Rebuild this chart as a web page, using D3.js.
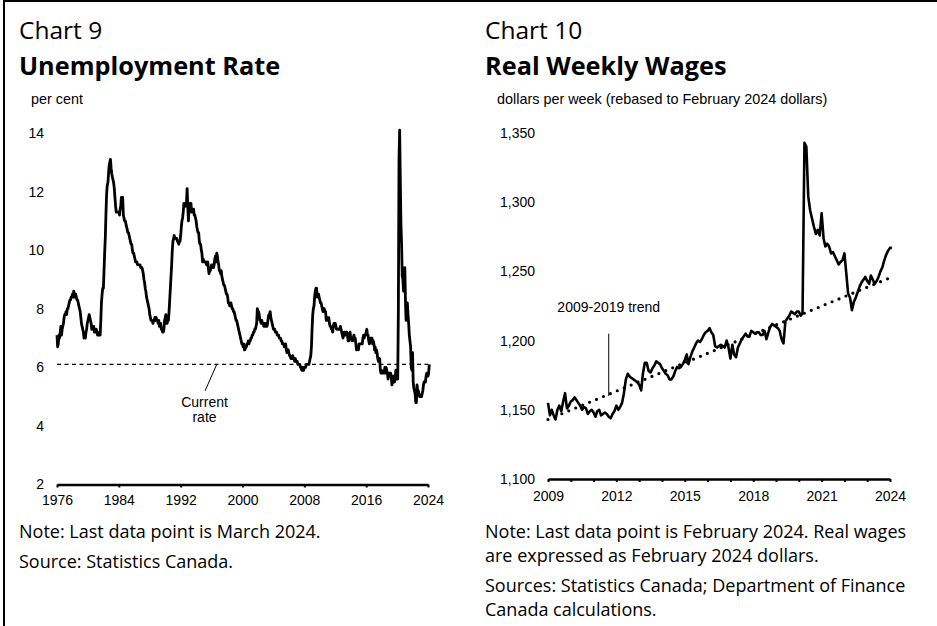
<!DOCTYPE html>
<html>
<head>
<meta charset="utf-8">
<script src="https://cdn.jsdelivr.net/npm/d3@7"></script>
<style>
body{margin:0;background:#fff;}
text{fill:#000;}
.sans{font-family:"Liberation Sans",Arial,sans-serif;font-size:14px;}
.head{font-family:"Open Sans","Noto Sans",sans-serif;}
</style>
</head>
<body>
<div id="chart"></div>
<script>

// Chart 9: unemployment rate, monthly, per cent, from Jan 1976
var unempFirstMonth="1976-01";
var unempRate=[
	7.1,6.7,6.8,7.1,7.0,7.2,7.4,7.1,7.3,7.4,7.5,7.7,
	7.8,7.8,7.9,7.8,8.0,8.0,8.1,8.2,8.3,8.3,8.4,8.4,
	8.5,8.4,8.6,8.5,8.4,8.5,8.4,8.3,8.3,8.2,8.1,8.0,
	7.9,7.7,7.5,7.4,7.3,7.2,7.0,7.1,7.0,7.2,7.3,7.5,
	7.6,7.7,7.8,7.7,7.6,7.5,7.3,7.4,7.3,7.4,7.2,7.3,
	7.2,7.3,7.2,7.1,7.1,7.1,7.2,7.1,7.6,8.2,8.5,8.7,
	8.7,9.3,9.9,10.4,11.2,11.9,12.2,12.3,12.6,12.9,13.0,13.1,
	12.8,12.6,12.5,12.4,12.3,12.1,11.8,11.5,11.3,11.3,11.3,11.3,
	11.3,11.2,11.4,11.5,11.8,11.6,11.8,11.2,11.1,11.0,11.0,10.9,
	10.8,10.7,10.6,10.6,10.5,10.4,10.3,10.2,10.2,10.0,9.9,9.9,
	9.8,9.7,9.6,9.6,9.6,9.5,9.5,9.5,9.5,9.5,9.4,9.4,
	9.4,9.3,9.2,9.0,8.9,8.7,8.6,8.4,8.3,8.2,8.1,8.0,
	7.8,7.7,7.6,7.6,7.6,7.5,7.6,7.6,7.7,7.6,7.7,7.6,
	7.6,7.5,7.6,7.4,7.4,7.5,7.3,7.3,7.2,7.2,7.3,7.6,
	7.7,7.8,7.5,7.5,7.6,7.6,7.9,8.3,8.7,9.1,9.5,10.0,
	10.3,10.4,10.5,10.4,10.4,10.4,10.4,10.3,10.3,10.2,10.3,10.3,
	10.5,10.8,11.0,11.1,11.3,11.6,11.5,11.6,11.5,11.6,12.1,11.5,
	11.0,11.4,11.6,11.5,11.6,11.3,11.4,11.4,11.4,11.2,11.2,11.1,
	11.0,10.8,10.7,10.6,10.6,10.3,10.2,10.2,10.0,9.9,9.6,9.7,
	9.6,9.6,9.6,9.6,9.5,9.5,9.6,9.4,9.2,9.3,9.3,9.4,
	9.5,9.4,9.5,9.4,9.5,9.7,9.8,9.6,9.9,9.8,9.6,9.5,
	9.3,9.3,9.2,9.3,9.1,9.0,8.9,8.8,8.8,8.7,8.6,8.5,
	8.5,8.4,8.2,8.2,8.1,8.2,8.2,8.1,8.0,8.0,7.9,7.9,
	7.8,7.7,7.6,7.6,7.5,7.4,7.3,7.2,7.1,7.0,6.9,6.8,
	6.8,6.7,6.8,6.6,6.6,6.7,6.7,6.8,6.8,6.9,6.8,6.9,
	6.9,7.0,7.0,7.1,7.1,7.2,7.2,7.3,7.3,7.4,7.5,8.0,
	7.9,7.9,7.8,7.6,7.6,7.5,7.6,7.5,7.5,7.4,7.5,7.4,
	7.4,7.5,7.4,7.5,7.7,7.8,7.8,7.9,7.7,7.6,7.5,7.4,
	7.3,7.3,7.3,7.2,7.2,7.2,7.1,7.1,7.1,7.0,7.0,7.0,
	6.9,6.9,6.8,6.8,6.8,6.7,6.7,6.8,6.6,6.5,6.5,6.6,
	6.5,6.4,6.4,6.3,6.3,6.3,6.4,6.3,6.3,6.2,6.3,6.2,
	6.2,6.2,6.1,6.1,6.1,6.1,6.0,6.0,5.9,6.0,6.0,5.9,
	6.0,6.0,6.0,6.1,6.1,6.1,6.1,6.1,6.2,6.3,6.4,6.7,
	7.3,7.8,8.0,8.1,8.4,8.6,8.7,8.7,8.4,8.5,8.5,8.4,
	8.3,8.2,8.2,8.1,8.0,7.9,8.0,8.0,7.9,7.9,7.6,7.6,
	7.7,7.7,7.7,7.5,7.4,7.4,7.3,7.3,7.2,7.4,7.5,7.5,
	7.5,7.4,7.3,7.3,7.3,7.3,7.3,7.3,7.4,7.3,7.2,7.1,
	7.0,7.1,7.2,7.2,7.1,7.2,7.2,7.1,6.9,6.9,7.0,7.2,
	7.0,7.0,6.9,6.9,7.0,7.1,7.0,7.0,6.8,6.6,6.6,6.7,
	6.6,6.8,6.8,6.8,6.8,6.8,6.8,7.0,7.1,7.0,7.1,7.1,
	7.2,7.3,7.1,7.1,6.9,6.8,6.9,7.0,7.0,7.0,6.8,6.9,
	6.8,6.6,6.7,6.5,6.6,6.5,6.3,6.2,6.2,6.3,5.9,5.8,
	5.9,5.8,5.8,5.8,5.8,6.0,5.8,6.0,5.9,5.8,5.6,5.7,
	5.8,5.8,5.8,5.7,5.4,5.5,5.7,5.7,5.5,5.6,5.9,5.6,
	5.6,5.6,7.9,13.1,14.1,12.4,10.9,10.2,9.1,9.0,8.6,8.9,
	9.4,8.2,7.6,8.1,8.2,7.8,7.5,7.1,6.9,6.7,6.0,5.9,
	6.5,5.5,5.3,5.2,5.1,4.8,4.8,5.4,5.2,5.2,5.1,5.0,
	5.0,5.0,5.0,5.1,5.2,5.4,5.5,5.5,5.5,5.7,5.8,5.8,
	5.7,5.8,6.1
];
var currentRate=6.1;
var unempYearTicks=[1976,1984,1992,2000,2008,2016,2024];
var unempRateTicks=[2,4,6,8,10,12,14];

// Chart 10: real weekly wages, monthly, Feb 2024 dollars, from Jan 2009
var wagesFirstMonth="2009-01";
var realWages=[
	1155,1146,1150,1146,1143,1150,1153,1149,1156,1162,1151,1153,
	1156,1157,1159,1157,1155,1153,1150,1152,1151,1147,1149,1150,
	1148,1145,1149,1150,1146,1147,1148,1147,1145,1144,1147,1149,
	1153,1150,1152,1155,1162,1172,1176,1174,1173,1172,1171,1170,
	1168,1164,1176,1184,1184,1178,1177,1180,1182,1185,1184,1183,
	1180,1178,1176,1175,1172,1172,1174,1178,1181,1180,1181,1183,
	1186,1190,1183,1188,1192,1195,1198,1200,1199,1201,1204,1206,
	1207,1209,1206,1204,1196,1195,1196,1197,1196,1195,1200,1195,
	1187,1197,1190,1188,1195,1198,1201,1203,1205,1203,1203,1207,
	1206,1205,1206,1206,1204,1204,1207,1201,1206,1210,1212,1211,
	1210,1209,1207,1201,1198,1214,1216,1218,1221,1220,1219,1221,
	1221,1218,1220,1343,1340,1304,1294,1288,1282,1277,1280,1276,
	1292,1274,1268,1270,1268,1263,1264,1261,1258,1255,1257,1258,
	1263,1248,1234,1231,1222,1228,1231,1235,1239,1242,1244,1246,
	1243,1241,1247,1244,1241,1243,1246,1250,1253,1258,1262,1265,
	1267,1267
];
var trendMonths=["2009-01","2024-02"];
var trendValues=[1143,1246];
var wageYearTicks=[2009,2012,2015,2018,2021,2024];
var wageMinorYears=d3.range(2009,2025);
var wageTicks=[1100,1150,1200,1250,1300,1350];

var WIDTH=937,
	HEIGHT=626;

var parseMonth=d3.timeParse("%Y-%m"),
	yearDate=function(y){ return new Date(y,0,1); };

function monthly(first,values){
	var start=parseMonth(first);
	return values.map(function(v,i){
		return {date:d3.timeMonth.offset(start,i),value:v};
	});
}

var svg=d3.select("#chart")
			.append("svg")
				.attr("width",WIDTH)
				.attr("height",HEIGHT);

// frame, only top and left edges are inside the picture
svg.append("path")
	.attr("d","M4,"+HEIGHT+"V1H"+WIDTH)
	.attr("fill","none")
	.attr("stroke","#000")
	.attr("stroke-width",2);

function header(left,number,title,unit,notes){
	svg.append("text").attr("class","head")
		.attr("x",left).attr("y",39)
		.style("font-size","24.5px")
		.text(number);
	svg.append("text").attr("class","head")
		.attr("x",left).attr("y",75)
		.style("font-size","25.3px").style("font-weight","bold")
		.text(title);
	svg.append("text").attr("class","sans")
		.attr("x",left+12).attr("y",104)
		.style("font-size","14.4px")
		.text(unit);

	var y=537.5;
	notes.forEach(function(par){
		par.forEach(function(line,i){
			svg.append("text").attr("class","head")
				.attr("x",left).attr("y",y)
				.style("font-size","18px")
				.text(line);
			y+=(i<par.length-1)?24:30;
		});
	});
}

function styleAxis(g){
	g.selectAll("text").attr("class","sans").style("font-size","14px").attr("fill","#000");
	g.selectAll("line").attr("stroke","#000").attr("stroke-width",2);
	g.select(".domain").attr("stroke","#000").attr("stroke-width",2.6);
}

var line=function(x,y){
	return d3.line()
		.x(function(d){ return x(d.date); })
		.y(function(d){ return y(d.value); });
};

/* ---------- Chart 9 ---------- */
header(19,"Chart 9","Unemployment Rate","per cent",[
	["Note: Last data point is March 2024."],
	["Source: Statistics Canada."]
]);

var x9=d3.scaleTime()
		.domain([parseMonth("1976-01"),parseMonth("2024-01")])
		.range([57,428]),
	y9=d3.scaleLinear()
		.domain([2,14])
		.range([484.5,133]);

svg.append("g")
	.attr("transform","translate(0,484.5)")
	.call(d3.axisBottom(x9)
		.tickValues(unempYearTicks.map(yearDate))
		.tickFormat(d3.timeFormat("%Y"))
		.tickSizeInner(3).tickSizeOuter(0).tickPadding(8))
	.call(styleAxis);

svg.append("g")
	.attr("transform","translate(44,0)")
	.call(d3.axisLeft(y9).tickValues(unempRateTicks).tickSize(0).tickPadding(0))
	.call(styleAxis)
	.call(function(g){ g.select(".domain").remove(); });

// current rate reference line
svg.append("line")
	.attr("x1",x9.range()[0]).attr("x2",x9.range()[1])
	.attr("y1",y9(currentRate)).attr("y2",y9(currentRate))
	.attr("stroke","#000").attr("stroke-width",1.2)
	.attr("stroke-dasharray","4,3.5");

svg.append("path")
	.datum(monthly(unempFirstMonth,unempRate))
	.attr("d",line(x9,y9))
	.attr("fill","none")
	.attr("stroke","#000")
	.attr("stroke-width",2.8)
	.attr("stroke-linejoin","round");

svg.append("line")
	.attr("x1",x9(parseMonth("1996-09"))).attr("y1",y9(currentRate))
	.attr("x2",x9(parseMonth("1995-03"))).attr("y2",y9(5.2))
	.attr("stroke","#000").attr("stroke-width",1);
svg.append("text").attr("class","sans")
	.attr("x",x9(parseMonth("1995-02"))).attr("y",y9(4.66))
	.attr("text-anchor","middle")
	.text("Current");
svg.append("text").attr("class","sans")
	.attr("x",x9(parseMonth("1995-02"))).attr("y",y9(4.14))
	.attr("text-anchor","middle")
	.text("rate");

/* ---------- Chart 10 ---------- */
header(485,"Chart 10","Real Weekly Wages","dollars per week (rebased to February 2024 dollars)",[
	["Note: Last data point is February 2024. Real wages","are expressed as February 2024 dollars."],
	["Sources: Statistics Canada; Department of Finance","Canada calculations."]
]);

var x10=d3.scaleTime()
		.domain([parseMonth("2009-01"),parseMonth("2024-01")])
		.range([548,890]),
	y10=d3.scaleLinear()
		.domain([1100,1350])
		.range([479,133]);

svg.append("g")
	.attr("transform","translate(0,479)")
	.call(d3.axisBottom(x10)
		.tickValues(wageMinorYears.map(yearDate))
		.tickFormat(function(d){
			return wageYearTicks.indexOf(d.getFullYear())>=0?d.getFullYear():"";
		})
		.tickSizeInner(3).tickSizeOuter(0).tickPadding(9))
	.call(styleAxis);

svg.append("g")
	.attr("transform","translate(535,0)")
	.call(d3.axisLeft(y10).tickValues(wageTicks).tickFormat(d3.format(",")).tickSize(0).tickPadding(0))
	.call(styleAxis)
	.call(function(g){ g.select(".domain").remove(); });

// 2009-2019 trend, dotted
svg.append("path")
	.datum(trendMonths.map(function(m,i){ return {date:parseMonth(m),value:trendValues[i]}; }))
	.attr("d",line(x10,y10))
	.attr("fill","none")
	.attr("stroke","#000")
	.attr("stroke-width",3.2)
	.attr("stroke-linecap","round")
	.attr("stroke-dasharray","0,7.5");

svg.append("path")
	.datum(monthly(wagesFirstMonth,realWages))
	.attr("d",line(x10,y10))
	.attr("fill","none")
	.attr("stroke","#000")
	.attr("stroke-width",2.6)
	.attr("stroke-linejoin","round");

svg.append("line")
	.attr("x1",x10(parseMonth("2011-09"))).attr("x2",x10(parseMonth("2011-09")))
	.attr("y1",y10(1160)).attr("y2",y10(1205))
	.attr("stroke","#000").attr("stroke-width",1);
svg.append("text").attr("class","sans")
	.attr("x",x10(parseMonth("2011-09"))).attr("y",y10(1221))
	.attr("text-anchor","middle")
	.text("2009-2019 trend");

</script>
</body>
</html>
